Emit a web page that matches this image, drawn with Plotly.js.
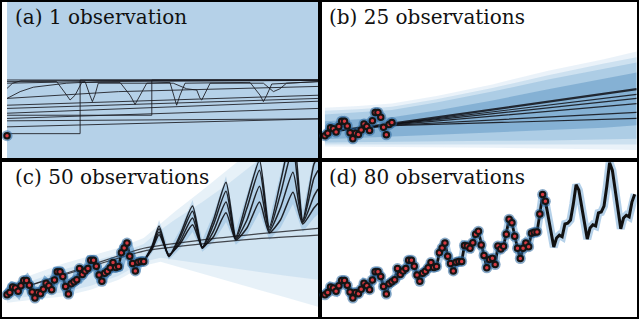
<!DOCTYPE html>
<html>
<head>
<meta charset="utf-8">
<script src="https://cdn.plot.ly/plotly-3.0.1.min.js"></script>
<style>
  html, body { margin: 0; padding: 0; background: #fff; }
  #chart { width: 640px; height: 320px; }
</style>
</head>
<body>
<div id="chart"></div>
<script>
// monthly passenger counts that appear as observations (first 80 months)
const obsValues = [
    112, 118, 132, 129, 121, 135, 148, 148, 136, 119, 104, 118,
    115, 126, 141, 135, 125, 149, 170, 170, 158, 133, 114, 140,
    145, 150, 178, 163, 172, 178, 199, 199, 184, 162, 146, 166,
    171, 180, 193, 181, 183, 218, 230, 242, 209, 191, 172, 194,
    196, 196, 236, 235, 229, 243, 264, 272, 237, 211, 180, 201,
    204, 188, 235, 227, 234, 264, 302, 293, 259, 229, 203, 229,
    242, 233, 267, 269, 270, 315, 364, 347,
];
const obsCounts = [1, 25, 50, 80];
const panelTitles = ["(a) 1 observation", "(b) 25 observations",
    "(c) 50 observations", "(d) 80 observations"];

// (a) posterior samples after one observation
const aSamples = [
    { x: [0, 111.6], y: [251, 251] },
    { x: [0, 2, 5, 111.6], y: [230, 243, 249, 251] },
    { x: [0, 4.7, 9.4, 21.4, 33, 111.6], y: [205, 222, 233, 243, 247, 250] },
    { x: [0, 17.8, 21.4, 22.6, 24.4, 26.8, 40.5, 44.1, 45.9, 47.7, 50.1, 58.4, 60.2, 60.8, 62, 63.8, 87.1, 90.7, 91.9, 93.1, 94.9, 111.6],
      y: [247, 247, 213, 201, 213, 245, 245, 213, 190, 213, 243, 245, 205, 188, 213, 243, 245, 213, 197, 213, 241, 247] },
    { x: [0, 28, 29.7, 30.6, 31.5, 32.7, 59.6, 64.4, 68, 69.2, 69.8, 71, 72.8, 91.9, 95.5, 97.8, 100.2, 111.6],
      y: [243, 247, 213, 197, 213, 243, 243, 229, 226, 205, 201, 218, 243, 243, 222, 229, 243, 247] },
    { x: [0, 40, 111.6], y: [205, 222, 235] },
    { x: [0, 111.6], y: [188, 213] },
    { x: [0, 111.6], y: [180, 205] },
    { x: [0, 111.6], y: [168, 198] },
    { x: [0, 111.6], y: [155, 180] },
    { x: [0, 111.6], y: [149, 154] },
    { x: [0, 57, 111.6], y: [134, 145, 154] },
    { x: [0, 26.2, 26.2, 111.6], y: [117, 117, 251, 251] },
    { x: [0, 51.9, 51.9, 111.6], y: [163, 163, 251, 251] },
];
const aBandX = [0, 111.6];
const aBandUpper = [470, 470];
const aBandLower = [40, 40];

// (b) samples and quantile bands
const bSampleX = [0, 24, 111.7];
const bSamples = [
    [120, 142, 228],
    [120, 141, 215],
    [121, 140, 205],
    [121, 139, 192],
    [122, 138, 170],
    [122, 137, 155],
];
const bBandX = [0, 12, 24, 40, 60, 80, 100, 111.7];
const bOuterUpper = [182, 186, 192, 211, 240, 274, 303, 322];
const bOuterLower = [85, 85, 84, 83, 82, 80, 78, 76];
const bWideUpper = [174, 178, 184, 203, 231, 263, 292, 308];
const bWideLower = [90, 90, 90, 90, 90, 90, 90, 90];
const bMidUpper = [165, 170, 176, 195, 222, 252, 280, 295];
const bMidLower = [95, 96, 97, 98, 99, 100, 102, 104];
const bCoreUpper = [148, 153, 158, 175, 200, 228, 255, 270];
const bCoreLower = [103, 106, 110, 114, 120, 126, 132, 138];

// (c) forecast samples and bands
const cSampleX = [49, 52, 54.5, 58, 62, 66.5, 70, 74, 78.5, 82, 86, 90.5, 94, 98, 102.5, 106, 110, 111.5];
const cSamples = [
    [196, 235, 285, 210, 262, 335, 232, 300, 395, 258, 350, 450, 282, 395, 525, 300, 440, 460],
    [196, 232, 278, 208, 255, 322, 230, 288, 372, 254, 330, 425, 276, 365, 480, 296, 405, 425],
    [196, 229, 270, 210, 246, 305, 229, 272, 345, 252, 300, 385, 272, 330, 420, 294, 360, 378],
    [196, 226, 263, 214, 240, 288, 232, 258, 318, 250, 280, 345, 268, 300, 370, 290, 330, 342],
];
const cCoreUpper = [205, 245, 300, 225, 275, 350, 250, 315, 410, 275, 365, 470, 300, 410, 545, 320, 460, 480];
const cCoreLower = [188, 218, 250, 200, 228, 270, 220, 245, 295, 238, 262, 320, 250, 280, 340, 270, 305, 315];
const cTrendX = [0, 25, 49, 70, 90, 111.5];
const cTrends = [
    [117, 175, 229, 250, 265, 279],
    [118, 172, 222, 240, 253, 262],
];
const cBandX = [0, 10, 20, 30, 40, 49, 55, 60, 70, 80, 90, 100, 111.5];
const cOuterUpper = [140, 165, 190, 210, 230, 255, 290, 320, 375, 430, 490, 545, 590];
const cOuterLower = [92, 100, 108, 125, 150, 185, 195, 185, 165, 145, 125, 105, 82];
const cMidUpper = [130, 150, 175, 195, 215, 240, 275, 300, 345, 395, 450, 505, 540];
const cMidLower = [100, 110, 118, 135, 160, 195, 205, 200, 190, 180, 170, 160, 150];

// (d) forecast after 80 observations
const dForecastX = [79, 80, 81, 82, 83, 84, 85, 86, 87, 88, 89, 90, 91, 92, 93, 94, 95,
    96, 97, 98, 99, 100, 101, 102, 103, 104, 105, 106, 107, 108, 109, 110, 111];
const dForecastY = [347, 305, 265, 232, 255, 262, 258, 290, 292, 300, 340, 389, 375, 335, 290, 252, 280,
    288, 285, 318, 320, 335, 385, 444, 425, 375, 320, 278, 305, 312, 308, 345, 365];

function band(xs, upper, lower, color, ax) {
    return {
        x: xs.concat(xs.slice().reverse()),
        y: upper.concat(lower.slice().reverse()),
        xaxis: "x" + ax.x, yaxis: "y" + ax.y,
        type: "scatter", mode: "lines", fill: "toself",
        fillcolor: color, line: { width: 0 }, hoverinfo: "skip",
    };
}

function line(xs, ys, color, width, ax, smooth) {
    return {
        x: xs, y: ys, xaxis: "x" + ax.x, yaxis: "y" + ax.y,
        type: "scatter", mode: "lines",
        line: smooth ? { color: color, width: width, shape: "spline", smoothing: 0.6 }
                     : { color: color, width: width },
        hoverinfo: "skip",
    };
}

function observations(n, ax) {
    const ys = obsValues.slice(0, n);
    const xs = ys.map((_, i) => i);
    return [
        {
            x: xs, y: ys, xaxis: "x" + ax.x, yaxis: "y" + ax.y,
            type: "scatter", mode: "markers", cliponaxis: false,
            marker: { size: 11, color: "rgba(40,100,155,0.55)" }, hoverinfo: "skip",
        },
        {
            x: xs, y: ys, xaxis: "x" + ax.x, yaxis: "y" + ax.y,
            type: "scatter", mode: "markers", cliponaxis: false,
            marker: { size: 5.5, color: "#d43a40", line: { color: "#151515", width: 2 } },
            hoverinfo: "skip",
        },
    ];
}

const axA = { x: "", y: "" };
const axB = { x: "2", y: "2" };
const axC = { x: "3", y: "3" };
const axD = { x: "4", y: "4" };

const traces = [];

// (a)
traces.push(band(aBandX, aBandUpper, aBandLower, "rgb(181,209,232)", axA));
aSamples.forEach((s) => traces.push(line(s.x, s.y, "rgba(25,25,30,0.85)", 1, axA)));
traces.push(...observations(obsCounts[0], axA));

// (b)
traces.push(band(bBandX, bOuterUpper, bOuterLower, "rgba(170,205,230,0.25)", axB));
traces.push(band(bBandX, bWideUpper, bWideLower, "rgba(140,185,220,0.3)", axB));
traces.push(band(bBandX, bMidUpper, bMidLower, "rgba(100,160,205,0.3)", axB));
traces.push(band(bBandX, bCoreUpper, bCoreLower, "rgba(60,125,180,0.35)", axB));
bSamples.forEach((ys, i) => traces.push(line(bSampleX, ys, "rgba(15,15,20,0.85)", i === 0 ? 2.2 : 1.2, axB)));
traces.push(...observations(obsCounts[1], axB));

// (c)
const cObs = obsValues.slice(0, obsCounts[2]);
const cObsX = cObs.map((_, i) => i);
traces.push(band(cBandX, cOuterUpper, cOuterLower, "rgba(175,208,233,0.3)", axC));
traces.push(band(cBandX, cMidUpper, cMidLower, "rgba(160,198,228,0.3)", axC));
traces.push(band(cSampleX, cCoreUpper, cCoreLower, "rgba(100,160,210,0.3)", axC));
traces.push(line(cObsX, cObs, "rgba(60,130,190,0.5)", 10, axC));
cTrends.forEach((ys) => traces.push(line(cTrendX, ys, "rgba(30,30,35,0.8)", 1.2, axC, true)));
cSamples.forEach((ys) => traces.push(line(cSampleX, ys, "rgba(15,15,20,0.9)", 1.5, axC, true)));
traces.push(line(cObsX, cObs, "#111", 2.6, axC));
traces.push(...observations(obsCounts[2], axC));

// (d)
const dObs = obsValues.slice(0, obsCounts[3]);
const dObsX = dObs.map((_, i) => i);
traces.push(line(dObsX, dObs, "rgba(70,140,200,0.4)", 8, axD));
traces.push(line(dForecastX, dForecastY, "rgba(70,140,200,0.4)", 8, axD));
traces.push(line(dObsX, dObs, "#111", 2.8, axD));
traces.push(line(dForecastX, dForecastY, "#111", 3, axD));
traces.push(...observations(obsCounts[3], axD));

const axisStyle = {
    showline: true, mirror: true, linecolor: "#000", linewidth: 2,
    showticklabels: false, ticks: "", showgrid: false, zeroline: false, fixedrange: true,
};
const yRange = [56, 446];
const leftX = [-1.83, 111.5];
const rightX = [-1.08, 111.75];

const titleFont = { family: "DejaVu Serif", size: 20, color: "#111" };
const titlePos = [[0.02, 0.99], [0.511, 0.99], [0.02, 0.49], [0.511, 0.49]];

const layout = {
    width: 640, height: 320,
    margin: { l: 0, r: 0, t: 0, b: 0 },
    font: { family: "DejaVu Serif" },
    paper_bgcolor: "#fff", plot_bgcolor: "#fff",
    showlegend: false,
    xaxis: { ...axisStyle, domain: [0.003, 0.497], range: leftX, anchor: "y" },
    yaxis: { ...axisStyle, domain: [0.506, 0.994], range: yRange, anchor: "x" },
    xaxis2: { ...axisStyle, domain: [0.503, 0.995], range: rightX, anchor: "y2" },
    yaxis2: { ...axisStyle, domain: [0.506, 0.994], range: yRange, anchor: "x2" },
    xaxis3: { ...axisStyle, domain: [0.003, 0.497], range: leftX, anchor: "y3" },
    yaxis3: { ...axisStyle, domain: [0.009, 0.494], range: yRange, anchor: "x3" },
    xaxis4: { ...axisStyle, domain: [0.503, 0.995], range: rightX, anchor: "y4" },
    yaxis4: { ...axisStyle, domain: [0.009, 0.494], range: yRange, anchor: "x4" },
    annotations: panelTitles.map((text, i) => ({
        text: text, xref: "paper", yref: "paper",
        x: titlePos[i][0], y: titlePos[i][1],
        xanchor: "left", yanchor: "top", showarrow: false, font: titleFont,
    })),
};

Plotly.newPlot("chart", traces, layout, { staticPlot: true, displayModeBar: false });
</script>
</body>
</html>
